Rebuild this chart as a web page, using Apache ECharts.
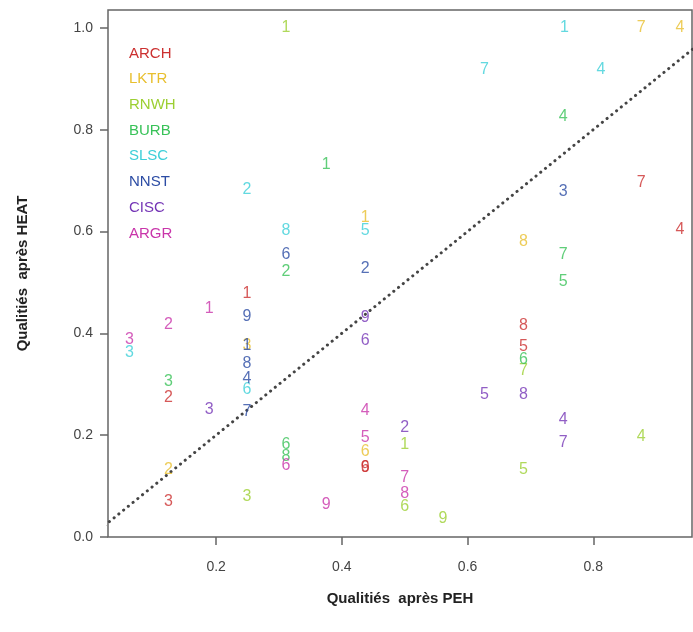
<!DOCTYPE html>
<html>
<head>
<meta charset="utf-8">
<script src="https://cdn.jsdelivr.net/npm/echarts@6/dist/echarts.min.js"></script>
<style>
  html, body { margin: 0; padding: 0; background: #fff; }
  #main { width: 693px; height: 632px; }
</style>
</head>
<body>
<div id="main"></div>
<script>
// 初始化实例
let myChart = echarts.init(document.getElementById('main'));

// groupes (légende) et couleurs
let groups = ['ARCH', 'LKTR', 'RNWH', 'BURB', 'SLSC', 'NNST', 'CISC', 'ARGR'];
let colors = ['#cc3030', '#e8bf2e', '#9ccf32', '#38c258', '#3ccfd8', '#2c4ca4', '#7536b6', '#c935aa'];

// points : [PEH, HEAT, étiquette]
let ARCH = [[0.249, 0.479, '1'], [0.124, 0.273, '2'], [0.124, 0.069, '3'], [0.938, 0.603, '4'],
    [0.689, 0.373, '5'], [0.437, 0.136, '6'], [0.876, 0.697, '7'], [0.689, 0.415, '8'], [0.437, 0.136, '9']];
let LKTR = [[0.437, 0.627, '1'], [0.124, 0.132, '2'], [0.249, 0.375, '3'], [0.938, 1.0, '4'],
    [0.876, 1.0, '7'], [0.689, 0.58, '8'], [0.437, 0.167, '6']];
let RNWH = [[0.311, 1.0, '1'], [0.5, 0.181, '1'], [0.249, 0.079, '3'], [0.876, 0.198, '4'],
    [0.689, 0.132, '5'], [0.689, 0.326, '7'], [0.561, 0.037, '9'], [0.5, 0.059, '6']];
let BURB = [[0.375, 0.731, '1'], [0.311, 0.521, '2'], [0.124, 0.305, '3'], [0.752, 0.825, '4'],
    [0.752, 0.501, '5'], [0.689, 0.348, '6'], [0.752, 0.554, '7'], [0.311, 0.181, '6'], [0.311, 0.157, '8']];
let SLSC = [[0.754, 1.0, '1'], [0.249, 0.682, '2'], [0.062, 0.363, '3'], [0.812, 0.917, '4'],
    [0.437, 0.601, '5'], [0.249, 0.289, '6'], [0.627, 0.917, '7'], [0.311, 0.601, '8']];
let NNST = [[0.249, 0.375, '1'], [0.437, 0.528, '2'], [0.752, 0.678, '3'], [0.249, 0.312, '4'],
    [0.311, 0.554, '6'], [0.249, 0.246, '7'], [0.249, 0.34, '8'], [0.249, 0.432, '9']];
let CISC = [[0.5, 0.214, '2'], [0.189, 0.25, '3'], [0.752, 0.23, '4'], [0.627, 0.279, '5'],
    [0.437, 0.385, '6'], [0.752, 0.185, '7'], [0.689, 0.279, '8'], [0.437, 0.43, '9']];
let ARGR = [[0.189, 0.448, '1'], [0.124, 0.418, '2'], [0.062, 0.387, '3'], [0.437, 0.248, '4'],
    [0.437, 0.195, '5'], [0.311, 0.14, '6'], [0.5, 0.116, '7'], [0.5, 0.086, '8'], [0.375, 0.063, '9']];

let groupData = [ARCH, LKTR, RNWH, BURB, SLSC, NNST, CISC, ARGR];

// ticks
let xTicks = [0.2, 0.4, 0.6, 0.8];
let yTicks = [0, 0.2, 0.4, 0.6, 0.8, 1.0];

// diagonale y = x
let diagLine = [[0, 0], [1, 1]];

let series = groups.map(function (g, i) {
    return {
        name: g,
        type: 'scatter',
        data: groupData[i],
        symbolSize: 10,
        itemStyle: { color: 'rgba(0,0,0,0)' },
        label: {
            show: true,
            position: 'inside',
            formatter: function (p) { return p.value[2]; },
            color: colors[i],
            fontSize: 16,
            fontFamily: 'Liberation Sans'
        },
        emphasis: { disabled: true },
        z: 3
    };
});

series.push({
    type: 'line',
    data: diagLine,
    symbol: 'none',
    clip: true,
    silent: true,
    lineStyle: { color: '#444', width: 3, type: [0.1, 6], cap: 'round' },
    z: 2
});

let option = {
    animation: false,
    backgroundColor: '#fff',
    textStyle: { fontFamily: 'Liberation Sans' },
    legend: {
        data: groups.map(function (g, i) {
            return { name: g, itemStyle: { color: colors[i] }, textStyle: { color: colors[i] } };
        }),
        orient: 'vertical',
        left: 119,
        top: 41,
        icon: 'none',
        itemWidth: 0,
        itemHeight: 14,
        itemGap: 10.7,
        selectedMode: false,
        textStyle: { fontSize: 15, padding: 0 }
    },
    grid: {
        left: 108,
        right: 1,
        top: 10,
        bottom: 95,
        show: true,
        borderColor: '#666',
        borderWidth: 1.5
    },
    xAxis: {
        type: 'value',
        min: 0.028,
        max: 0.957,
        name: 'Qualitiés  après PEH',
        nameLocation: 'middle',
        nameGap: 54,
        nameTextStyle: { fontSize: 15, fontWeight: 'bold', color: '#222' },
        splitLine: { show: false },
        axisLine: { show: false },
        axisTick: { show: true, inside: false, length: 8, customValues: xTicks, lineStyle: { color: '#666', width: 1.5 } },
        axisLabel: {
            customValues: xTicks,
            margin: 23,
            fontSize: 14,
            color: '#444',
            formatter: function (v) { return v.toFixed(1); }
        }
    },
    yAxis: {
        type: 'value',
        min: 0,
        max: 1.035,
        name: 'Qualitiés  après HEAT',
        nameLocation: 'middle',
        nameGap: 78,
        nameTextStyle: { fontSize: 15, fontWeight: 'bold', color: '#222' },
        splitLine: { show: false },
        axisLine: { show: false },
        axisTick: { show: true, inside: false, length: 8, customValues: yTicks, lineStyle: { color: '#666', width: 1.5 } },
        axisLabel: {
            customValues: yTicks,
            margin: 15,
            fontSize: 14,
            color: '#444',
            formatter: function (v) { return v.toFixed(1); }
        }
    },
    series: series
};

myChart.setOption(option);
</script>
</body>
</html>
